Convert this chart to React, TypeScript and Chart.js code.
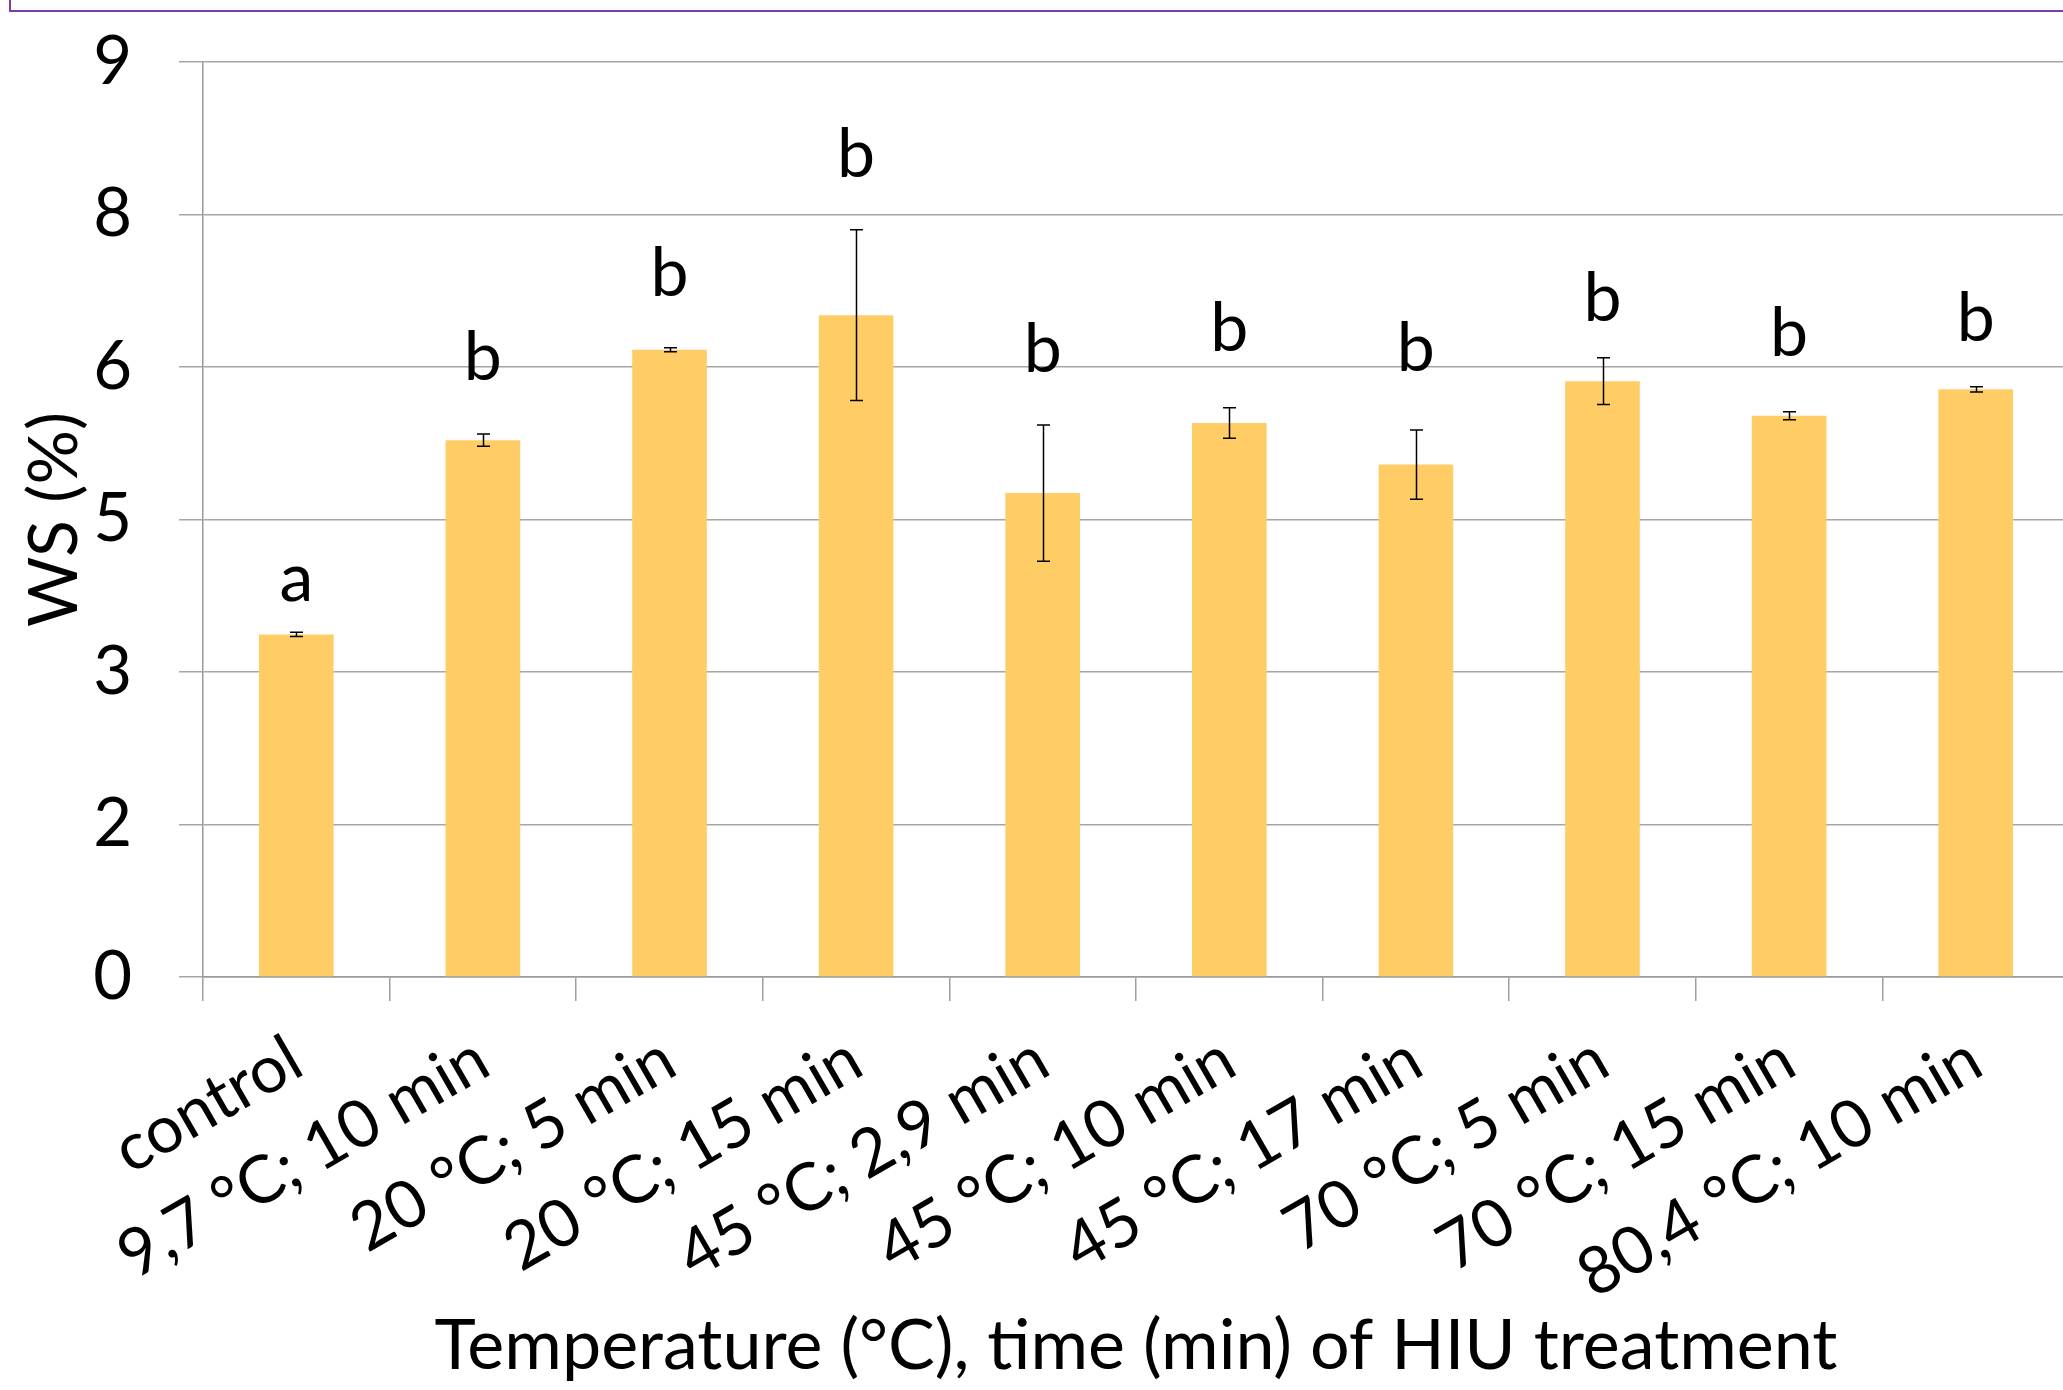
import React, { useEffect, useRef } from "react";
import { Chart, registerables } from "chart.js";

Chart.register(...registerables);

// ---- data ----
const categories = [
  "control",
  "9,7 °C; 10 min",
  "20 °C; 5 min",
  "20 °C; 15 min",
  "45 °C; 2,9 min",
  "45 °C; 10 min",
  "45 °C; 17 min",
  "70 °C; 5 min",
  "70 °C; 15 min",
  "80,4 °C; 10 min",
];
const wsValues = [3.37, 5.28, 6.17, 6.51, 4.76, 5.45, 5.04, 5.86, 5.52, 5.78];
const wsErrors = [0.02, 0.06, 0.02, 0.84, 0.67, 0.15, 0.34, 0.23, 0.04, 0.025];
const groupLetters = ["a", "b", "b", "b", "b", "b", "b", "b", "b", "b"];
const letterLevels = [3.7, 5.87, 6.7, 7.87, 5.95, 6.16, 5.96, 6.45, 6.11, 6.26];
const yMin = 0;
const yMax = 9;
const yStep = 1.5;

const FONT = "Lato, 'Open Sans', sans-serif";
const CANVAS_W = 2080;
const CANVAS_H = 1390;

const annotationPlugin = {
  id: "errorsAndLetters",
  afterDatasetsDraw(chart: any) {
    const ctx = chart.ctx;
    const meta = chart.getDatasetMeta(0);
    const y = chart.scales.y;
    ctx.save();
    ctx.strokeStyle = "#000000";
    ctx.lineWidth = 1.5;
    meta.data.forEach((bar: any, i: number) => {
      const x = Math.round(bar.x) + 0.5;
      const hi = y.getPixelForValue(wsValues[i] + wsErrors[i]);
      const lo = y.getPixelForValue(wsValues[i] - wsErrors[i]);
      const cap = 6.5;
      ctx.beginPath();
      ctx.moveTo(x, hi);
      ctx.lineTo(x, lo);
      ctx.moveTo(x - cap, hi);
      ctx.lineTo(x + cap, hi);
      ctx.moveTo(x - cap, lo);
      ctx.lineTo(x + cap, lo);
      ctx.stroke();
    });
    ctx.fillStyle = "#000000";
    ctx.font = `68px ${FONT}`;
    ctx.textAlign = "center";
    ctx.textBaseline = "alphabetic";
    meta.data.forEach((bar: any, i: number) => {
      ctx.fillText(groupLetters[i], bar.x, y.getPixelForValue(letterLevels[i]));
    });
    ctx.restore();
  },
};

export default function App() {
  const canvasRef = useRef<HTMLCanvasElement | null>(null);

  useEffect(() => {
    if (!canvasRef.current) return;
    const chart = new Chart(canvasRef.current, {
      type: "bar",
      data: {
        labels: categories,
        datasets: [
          {
            label: "WS (%)",
            data: wsValues,
            backgroundColor: "#FFCC66",
            borderWidth: 0,
            barPercentage: 0.4,
            categoryPercentage: 1,
          },
        ],
      },
      options: {
        responsive: false,
        animation: false,
        devicePixelRatio: 1,
        layout: { padding: { top: 62, right: 11, bottom: 0, left: 0 } },
        plugins: {
          legend: { display: false },
          tooltip: { enabled: false },
        },
        scales: {
          x: {
            grid: {
              display: true,
              drawOnChartArea: false,
              drawTicks: true,
              tickLength: 24,
              color: "#A0A0A0",
              lineWidth: 1.5,
              offset: true,
            },
            border: { display: true, color: "#9A9A9A", width: 1.5 },
            ticks: {
              autoSkip: false,
              maxRotation: 30,
              minRotation: 30,
              padding: 19,
              labelOffset: 0,
              color: "#000000",
              font: { family: FONT, size: 66 },
            },
            title: {
              display: true,
              text: "Temperature (°C), time (min) of HIU treatment",
              color: "#000000",
              font: { family: FONT, size: 70 },
              padding: { top: 0, bottom: 2 },
            },
            afterFit: (scale: any) => {
              scale.height = CANVAS_H - 977;
            },
          },
          y: {
            min: yMin,
            max: yMax,
            grid: {
              color: "#A6A6A6",
              lineWidth: 1.5,
              drawTicks: true,
              tickLength: 24,
            },
            border: { display: true, color: "#9A9A9A", width: 1.5 },
            ticks: {
              stepSize: yStep,
              padding: 47,
              color: "#000000",
              font: { family: FONT, size: 67 },
              callback: (v: any) => String(Math.round(Number(v))),
            },
            title: {
              display: true,
              text: "WS (%)",
              color: "#000000",
              font: { family: FONT, size: 68 },
              padding: { top: 14, bottom: 0 },
            },
            afterFit: (scale: any) => {
              scale.width = 203;
              scale.paddingTop = 0;
              scale.paddingBottom = 0;
            },
          },
        },
      },
      plugins: [annotationPlugin],
    });
    return () => chart.destroy();
  }, []);

  return (
    <div
      style={{
        position: "fixed",
        left: 0,
        top: 0,
        width: 2063,
        height: 1390,
        overflow: "hidden",
        background: "#ffffff",
      }}
    >
      <div
        style={{
          position: "absolute",
          left: 9,
          top: -50,
          width: 3000,
          height: 62,
          boxSizing: "border-box",
          border: "2px solid #7A3DB0",
        }}
      />
      <canvas
        ref={canvasRef}
        width={CANVAS_W}
        height={CANVAS_H}
        style={{ display: "block", width: CANVAS_W, height: CANVAS_H }}
      />
    </div>
  );
}
